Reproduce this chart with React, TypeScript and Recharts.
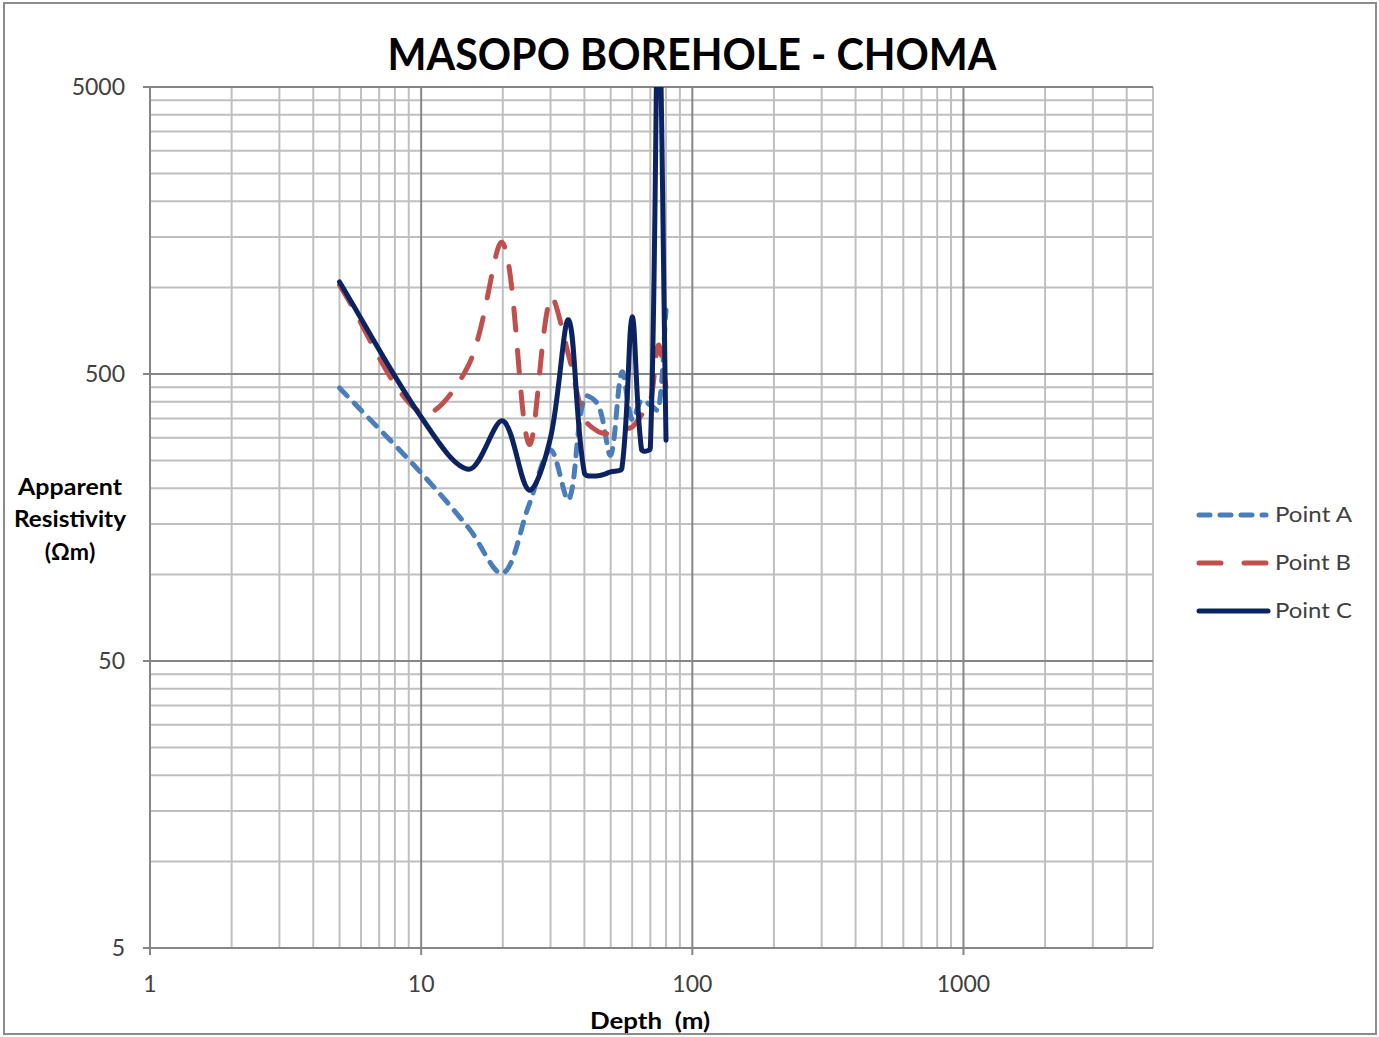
import React from 'react';
import { LineChart, Line, XAxis, YAxis, CartesianGrid } from 'recharts';

const depths = [5, 10, 15, 20, 25, 30, 35, 40, 45, 50, 55, 60, 65, 70, 75, 80];
const pointA = [447, 226, 145, 101, 175, 272, 182, 416, 390, 261, 508, 346, 406, 390, 375, 835];
const pointB = [1020, 366, 540, 1430, 285, 920, 580, 350, 315, 310, 320, 327, 360, 400, 630, 450];
const pointC = [1046, 354, 233, 343, 197, 300, 771, 226, 221, 228, 235, 790, 272, 276, 10000, 294];

const xTicks = [1, 10, 100, 1000];
const yTicks = [5, 50, 500, 5000];
const xMajor = [10, 100, 1000];
const xMinor = [2, 3, 4, 5, 6, 7, 8, 9, 20, 30, 40, 50, 60, 70, 80, 90, 200, 300, 400, 500, 600, 700, 800, 900, 2000, 3000, 4000, 5000];
const yMajor = [50, 500, 5000];
const yMinor = [10, 15, 20, 25, 30, 35, 40, 45, 100, 150, 200, 250, 300, 350, 400, 450, 1000, 1500, 2000, 2500, 3000, 3500, 4000, 4500];

const seriesNames = ['Point A', 'Point B', 'Point C'];

const data = depths.map((d, i) => ({ depth: d, a: pointA[i], b: pointB[i], c: pointC[i] }));

// Excel-like smoothed curve: tangent through neighbours, control distances weighted by segment lengths
const excelCurve: any = (context: any) => {
  let pts: number[][] = [];
  return {
    areaStart() {},
    areaEnd() {},
    lineStart() { pts = []; },
    point(x: number, y: number) { pts.push([+x, +y]); },
    lineEnd() {
      const n = pts.length;
      if (!n) return;
      const dist = (a: number[], b: number[]) => Math.hypot(b[0] - a[0], b[1] - a[1]);
      const outC: number[][] = [];
      const inC: number[][] = [];
      for (let i = 0; i < n; i++) {
        const p0 = pts[i - 1] || pts[i];
        const p1 = pts[i];
        const p2 = pts[i + 1] || pts[i];
        const d01 = dist(p0, p1);
        const d12 = dist(p1, p2);
        const s = d01 + d12 || 1;
        const tx = p2[0] - p0[0];
        const ty = p2[1] - p0[1];
        const f = 1 / 3;
        outC.push([p1[0] + tx * f * d12 / s, p1[1] + ty * f * d12 / s]);
        inC.push([p1[0] - tx * f * d01 / s, p1[1] - ty * f * d01 / s]);
      }
      context.moveTo(pts[0][0], pts[0][1]);
      for (let i = 0; i < n - 1; i++) {
        const c1 = outC[i];
        const c2 = inC[i + 1];
        context.bezierCurveTo(c1[0], c1[1], c2[0], c2[1], pts[i + 1][0], pts[i + 1][1]);
      }
    },
  };
};

const FONT = 'Lato, "Open Sans", sans-serif';
const MAJOR = '#868686';
const MINOR = '#bfbfbf';
const BLUE = '#4a7ebb';
const RED = '#c0504d';
const NAVY = '#0b2461';

export default function App() {
  return (
    <div style={{ position: 'absolute', left: 0, top: 0, width: 1379, height: 1037, background: '#fff' }}>
      <LineChart
        width={1379}
        height={1037}
        data={data}
        margin={{ top: 87, right: 226, bottom: 0, left: 0 }}
      >
        <CartesianGrid
          horizontalValues={yMinor}
          verticalValues={xMinor}
          stroke={MINOR}
          strokeWidth={2}
          strokeDasharray=""
        />
        <CartesianGrid
          horizontalValues={yMajor}
          verticalValues={xMajor}
          stroke={MAJOR}
          strokeWidth={2}
          strokeDasharray=""
        />
        <XAxis
          dataKey="depth"
          type="number"
          scale="log"
          domain={[1, 5000]}
          ticks={xTicks}
          allowDataOverflow
          height={89}
          axisLine={{ stroke: MAJOR, strokeWidth: 2 }}
          tickLine={{ stroke: MAJOR, strokeWidth: 2 }}
          tickSize={7}
          tickMargin={21}
          tick={{ fontSize: 23, fill: '#404040', fontFamily: FONT }}
          interval={0}
        />
        <YAxis
          type="number"
          scale="log"
          domain={[5, 5000]}
          ticks={yTicks}
          allowDataOverflow
          width={150}
          axisLine={{ stroke: MAJOR, strokeWidth: 2 }}
          tickLine={{ stroke: MAJOR, strokeWidth: 2 }}
          tickSize={7}
          tickMargin={18}
          tick={{ fontSize: 23, fill: '#404040', fontFamily: FONT }}
          interval={0}
        />
        <Line
          dataKey="a"
          name={seriesNames[0]}
          type={excelCurve}
          stroke={BLUE}
          strokeWidth={5}
          strokeDasharray="11 10"
          strokeLinecap="round"
          dot={false}
          activeDot={false}
          isAnimationActive={false}
        />
        <Line
          dataKey="b"
          name={seriesNames[1]}
          type={excelCurve}
          stroke={RED}
          strokeWidth={5}
          strokeDasharray="22 20"
          strokeLinecap="round"
          dot={false}
          activeDot={false}
          isAnimationActive={false}
        />
        <Line
          dataKey="c"
          name={seriesNames[2]}
          type={excelCurve}
          stroke={NAVY}
          strokeWidth={5}
          strokeLinecap="round"
          dot={false}
          activeDot={false}
          isAnimationActive={false}
        />
      </LineChart>
      <svg
        width={1379}
        height={1037}
        style={{ position: 'absolute', left: 0, top: 0, pointerEvents: 'none' }}
      >
        <rect x={4} y={3} width={1372} height={1031} fill="none" stroke="#8c8c8c" strokeWidth={2} />
        <text x={692} y={70} textAnchor="middle" fontFamily={FONT} fontWeight="bold" fontSize={44} fill="#000"
          textLength={609} lengthAdjust="spacingAndGlyphs">MASOPO BOREHOLE - CHOMA</text>
        <g fontFamily={FONT} fontWeight="bold" fontSize={23} fill="#000" textAnchor="middle">
          <text x={70} y={495} textLength={104} lengthAdjust="spacingAndGlyphs">Apparent</text>
          <text x={70} y={527} textLength={112} lengthAdjust="spacingAndGlyphs">Resistivity</text>
          <text x={70} y={560}>(Ωm)</text>
          <text x={650} y={1029} textLength={120} lengthAdjust="spacingAndGlyphs" style={{ whiteSpace: 'pre' }}>Depth  (m)</text>
        </g>
        <line x1={1199} y1={515} x2={1266} y2={515} stroke={BLUE} strokeWidth={5} strokeDasharray="11 10" strokeLinecap="round" />
        <line x1={1199} y1={563} x2={1266} y2={563} stroke={RED} strokeWidth={5} strokeDasharray="22 23" strokeLinecap="round" />
        <line x1={1199} y1={611} x2={1268} y2={611} stroke={NAVY} strokeWidth={5} strokeLinecap="round" />
        <g fontFamily={FONT} fontSize={22} fill="#404040">
          <text x={1275} y={522} textLength={77} lengthAdjust="spacingAndGlyphs">{seriesNames[0]}</text>
          <text x={1275} y={570} textLength={76} lengthAdjust="spacingAndGlyphs">{seriesNames[1]}</text>
          <text x={1275} y={618} textLength={77} lengthAdjust="spacingAndGlyphs">{seriesNames[2]}</text>
        </g>
      </svg>
    </div>
  );
}
